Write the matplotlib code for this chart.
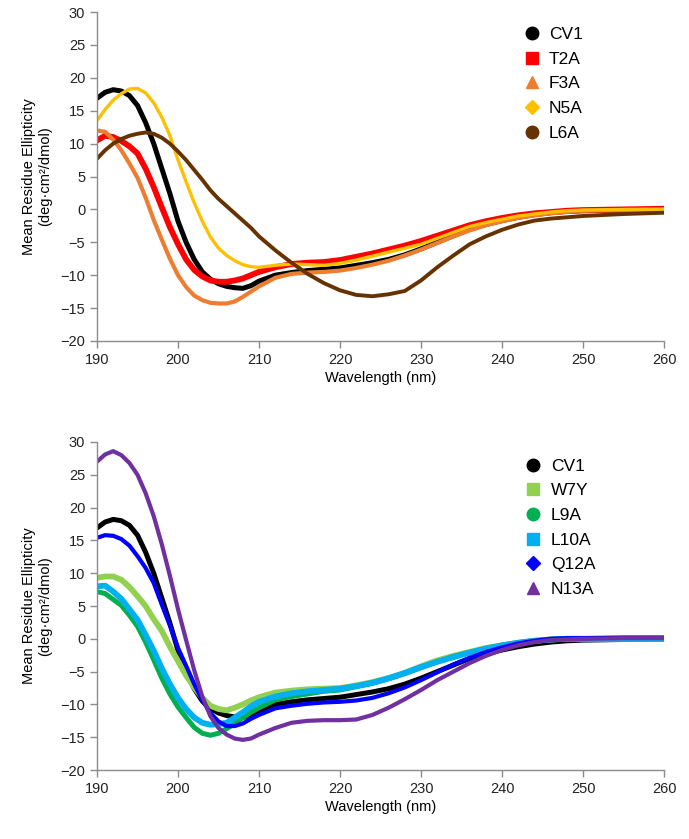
import matplotlib
matplotlib.use('Agg')
import matplotlib.pyplot as plt
from matplotlib.lines import Line2D

plt.rcParams['font.family'] = ['Liberation Sans', 'DejaVu Sans']

# wavelength grid (nm)
wl = [190, 191, 192, 193, 194, 195, 196, 197, 198, 199, 200, 201, 202, 203, 204,
      205, 206, 207, 208, 209, 210, 212, 214, 216, 218, 220, 222, 224, 226, 228,
      230, 232, 234, 236, 238, 240, 242, 244, 246, 248, 250, 255, 260]

cv1 = [16.9, 17.8, 18.2, 18.0, 17.3, 15.8, 13.2, 10.0, 6.2, 2.4, -1.8, -5.0, -7.6, -9.5, -10.6,
       -11.3, -11.7, -11.9, -12.0, -11.6, -10.9, -10.0, -9.6, -9.3, -9.1, -8.9, -8.5, -8.1, -7.6, -6.9,
       -6.0, -5.0, -4.0, -3.0, -2.3, -1.7, -1.2, -0.8, -0.5, -0.3, -0.2, -0.1, 0.0]
t2a = [10.5, 11.2, 11.0, 10.4, 9.6, 8.5, 6.2, 3.4, 0.3, -2.7, -5.3, -7.6, -9.2, -10.2, -10.8,
       -11.0, -11.0, -10.8, -10.5, -10.0, -9.5, -8.8, -8.3, -8.1, -8.0, -7.7, -7.2, -6.7, -6.1, -5.5,
       -4.8, -4.0, -3.2, -2.4, -1.8, -1.3, -0.9, -0.6, -0.4, -0.2, -0.1, 0.0, 0.1]
f3a = [12.0, 11.8, 10.6, 9.0, 7.0, 4.8, 1.8, -1.6, -4.6, -7.5, -10.0, -11.8, -13.1, -13.8, -14.2,
       -14.3, -14.3, -14.0, -13.3, -12.5, -11.7, -10.4, -9.8, -9.6, -9.5, -9.3, -8.9, -8.4, -7.8, -7.0,
       -6.1, -5.1, -4.1, -3.2, -2.4, -1.8, -1.3, -0.9, -0.6, -0.4, -0.2, -0.1, 0.0]
n5a = [13.5, 15.2, 16.6, 17.6, 18.3, 18.4, 17.7, 16.2, 14.0, 11.2, 7.5, 4.2, 1.0, -1.8, -4.2,
       -5.9, -7.0, -7.8, -8.4, -8.7, -8.8, -8.5, -8.3, -8.4, -8.5, -8.2, -7.7, -7.1, -6.5, -5.9,
       -5.3, -4.4, -3.5, -2.6, -2.0, -1.5, -1.0, -0.7, -0.4, -0.2, -0.1, 0.0, 0.0]
l6a = [7.7, 9.0, 10.0, 10.7, 11.2, 11.5, 11.7, 11.5, 10.9, 10.0, 8.8, 7.5, 6.0, 4.5, 2.9,
       1.6, 0.5, -0.6, -1.7, -2.8, -4.1, -6.2, -8.1, -9.8, -11.2, -12.3, -13.0, -13.2, -12.9, -12.4,
       -10.8, -8.8, -7.0, -5.3, -4.1, -3.1, -2.3, -1.7, -1.4, -1.2, -1.0, -0.7, -0.5]

w7y = [9.3, 9.5, 9.5, 9.0, 7.9, 6.5, 5.0, 3.0, 1.2, -1.2, -3.4, -5.6, -7.4, -9.0, -10.2,
       -10.7, -10.9, -10.5, -10.0, -9.4, -8.9, -8.2, -7.9, -7.7, -7.6, -7.5, -7.1, -6.6, -6.0, -5.2,
       -4.2, -3.3, -2.6, -2.0, -1.4, -1.0, -0.6, -0.3, -0.1, 0.0, 0.0, 0.0, 0.0]
l9a = [7.2, 6.9, 6.0, 5.1, 3.6, 1.9, -0.5, -3.2, -6.0, -8.4, -10.4, -12.0, -13.5, -14.4, -14.7,
       -14.4, -13.7, -12.9, -12.0, -11.2, -10.5, -9.3, -8.8, -8.4, -8.0, -7.8, -7.3, -6.8, -6.1, -5.3,
       -4.4, -3.5, -2.7, -2.1, -1.5, -1.0, -0.6, -0.3, -0.1, 0.0, 0.0, 0.0, 0.0]
l10a = [8.0, 8.1, 7.2, 6.1, 4.5, 2.9, 0.6, -1.8, -4.5, -6.9, -9.0, -10.7, -12.0, -12.8, -13.1,
        -13.0, -12.8, -12.0, -11.2, -10.3, -9.6, -8.8, -8.3, -8.0, -7.8, -7.6, -7.2, -6.7, -6.0, -5.2,
        -4.3, -3.5, -2.8, -2.1, -1.5, -1.0, -0.6, -0.3, -0.1, 0.0, 0.0, 0.0, 0.0]
q12a = [15.4, 15.8, 15.7, 15.2, 14.2, 12.6, 10.8, 8.5, 5.2, 2.0, -1.4, -4.1, -6.9, -9.4, -11.3,
        -12.6, -13.3, -13.3, -12.9, -12.2, -11.6, -10.6, -10.2, -9.9, -9.7, -9.6, -9.4, -9.0, -8.3, -7.4,
        -6.3, -5.1, -3.9, -2.9, -2.0, -1.3, -0.7, -0.3, 0.0, 0.1, 0.1, 0.2, 0.2]
n13a = [27.0, 28.1, 28.6, 28.0, 26.8, 25.0, 22.2, 18.7, 14.4, 9.6, 4.5, -0.2, -4.8, -8.8, -11.8,
        -13.6, -14.6, -15.2, -15.4, -15.2, -14.6, -13.6, -12.8, -12.5, -12.4, -12.4, -12.3, -11.6, -10.5, -9.2,
        -7.8, -6.3, -5.0, -3.7, -2.6, -1.7, -1.0, -0.5, -0.2, -0.1, 0.0, 0.1, 0.1]

top_series = [
    ('CV1', cv1, 'black', 'o', 3.6),
    ('T2A', t2a, '#ff0000', 's', 4.2),
    ('F3A', f3a, '#ed7d31', '^', 3.0),
    ('N5A', n5a, '#ffc000', 'D', 2.4),
    ('L6A', l6a, '#663300', 'o', 2.8),
]
bottom_series = [
    ('CV1', cv1, 'black', 'o', 3.6),
    ('W7Y', w7y, '#92d050', 's', 4.2),
    ('L9A', l9a, '#00b050', 'o', 3.6),
    ('L10A', l10a, '#00b0f0', 's', 4.2),
    ('Q12A', q12a, '#0000ff', 'D', 3.0),
    ('N13A', n13a, '#7030a0', '^', 3.0),
]

fig = plt.figure(figsize=(6.89, 8.39), dpi=100)
ax_top = fig.add_axes([0.1408, 0.5936, 0.823, 0.392])
ax_bot = fig.add_axes([0.1408, 0.0822, 0.823, 0.391])

axis_gray = '#8c8c8c'


def draw_panel(ax, series, pad):
    handles = []
    for name, vals, color, marker, lw in series:
        ax.plot(wl, vals, color=color, lw=lw, solid_capstyle='round', solid_joinstyle='round')
        handles.append(Line2D([], [], ls='none', marker=marker, color=color,
                              markersize=9 if marker != 'D' else 7.5, label=name))
    ax.set_xlim(190, 260)
    ax.set_ylim(-20, 30)
    ax.set_xticks(range(190, 261, 10))
    ax.set_yticks(range(-20, 31, 5))
    for side in ('top', 'right'):
        ax.spines[side].set_visible(False)
    for side in ('left', 'bottom'):
        ax.spines[side].set_color(axis_gray)
        ax.spines[side].set_linewidth(1.0)
    ax.tick_params(colors=axis_gray, labelcolor='#222222', labelsize=10.5, length=5, width=1.0)
    ax.set_xlabel('Wavelength (nm)', fontsize=10.5, labelpad=3)
    ax.set_ylabel('Mean Residue Ellipticity\n(deg\u00b7cm\u00b2/dmol)', fontsize=10.5,
                  labelpad=6, linespacing=1.2)
    ax.legend(handles=handles, loc='upper left', bbox_to_anchor=(0.71, 1.0), frameon=False,
              fontsize=12.5, handletextpad=0.0, labelspacing=0.55, borderaxespad=pad)


draw_panel(ax_top, top_series, 0.45)
draw_panel(ax_bot, bottom_series, 0.55)

fig.savefig('out.png', dpi=100)
